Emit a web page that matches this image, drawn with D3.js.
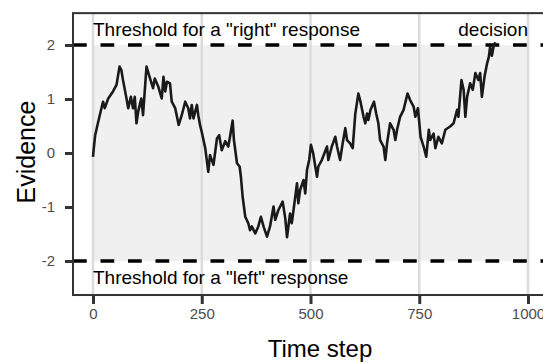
<!DOCTYPE html>
<html>
<head>
<meta charset="utf-8">
<script src="https://cdn.jsdelivr.net/npm/d3@7"></script>
<style>
  body { margin: 0; background: #fff; }
  text { font-family: "Liberation Sans", Arial, sans-serif; }
</style>
</head>
<body>
<div id="chart"></div>
<script>
// values
var timeSteps = [0, 2, 5, 12, 23, 27, 35, 46, 54, 61, 65, 69, 77, 81, 87, 92, 96, 100, 104, 111,
  115, 123, 130, 138, 142, 150, 158, 162, 166, 170, 177, 181, 189, 197, 204, 212, 219, 223, 227, 231,
  239, 242, 246, 250, 258, 265, 269, 277, 285, 290, 296, 304, 311, 315, 321, 324, 331, 337, 340, 344,
  350, 357, 361, 365, 373, 380, 386, 392, 400, 407, 415, 419, 426, 436, 442, 446, 453, 457, 465, 469,
  472, 476, 484, 488, 492, 497, 501, 506, 511, 515, 518, 526, 538, 541, 549, 557, 561, 568, 574, 580,
  584, 591, 597, 603, 610, 614, 622, 626, 630, 633, 638, 646, 651, 656, 660, 668, 672, 676, 683, 691,
  695, 699, 706, 714, 723, 729, 737, 741, 747, 753, 760, 766, 772, 775, 783, 787, 794, 802, 810, 821,
  829, 837, 840, 847, 852, 856, 860, 867, 873, 879, 886, 890, 894, 900, 906, 910, 913, 917, 921, 925];
var evidence = [-0.07, 0.1, 0.33, 0.58, 0.95, 0.83, 1.01, 1.14, 1.26, 1.6, 1.54, 1.35, 1.01, 0.83, 1.04, 0.83, 1.04, 0.55, 0.77, 1.01,
  0.7, 1.6, 1.41, 1.2, 1.38, 1.23, 1.01, 1.41, 1.14, 1.32, 1.29, 0.95, 0.83, 0.52, 0.7, 0.95, 0.83, 0.64, 0.89, 0.64,
  0.89, 0.7, 0.52, 0.39, 0.09, -0.35, -0.04, -0.22, 0.27, 0.33, 0.05, 0.22, 0.12, 0.3, 0.6, 0.24, -0.19, -0.25, -0.44, -0.81,
  -1.18, -1.3, -1.43, -1.36, -1.49, -1.36, -1.18, -1.36, -1.55, -1.36, -0.99, -1.24, -1.06, -0.9, -1.21, -1.56, -1.12, -1.3, -0.81, -0.56,
  -0.93, -0.69, -0.5, -0.75, -0.31, -0.13, 0.15, 0, -0.25, -0.44, -0.25, -0.13, 0.12, -0.13, 0.12, 0.3, 0.12, -0.13, 0.18, 0.46,
  0.24, 0.18, 0.09, 0.73, 1.1, 0.98, 0.67, 0.55, 0.73, 0.61, 0.8, 0.95, 0.73, 0.55, 0.24, 0.12, -0.13, 0.18, 0.55, 0.43,
  0.24, 0.43, 0.67, 0.8, 1.1, 0.98, 0.86, 0.67, 0.83, 0.3, 0.12, -0.07, 0.43, 0.24, 0.36, 0.09, 0.3, 0.18, 0.43, 0.49,
  0.55, 0.8, 0.67, 1.35, 1.17, 0.67, 1.04, 1.29, 1.17, 1.48, 1.35, 1.48, 1.04, 1.41, 1.66, 1.78, 1.97, 1.8, 1.98, 2.05];
var xTicks = [0, 250, 500, 750, 1000];
var yTicks = [-2, -1, 0, 1, 2];
var thresholds = [2, -2];
var thresholdLabels = ['Threshold for a "right" response', 'Threshold for a "left" response'];
var decisionLabel = "decision";

var svgWidth = 543;
var svgHeight = 363;

var svg = d3.select("#chart")
    .append("svg")
    .attr("width", svgWidth)
    .attr("height", svgHeight);

var x = d3.scaleLinear().domain([0, 1000]).range([93, 528]);
var y = d3.scaleLinear().domain([-2, 2]).range([261, 45]);

var panelLeft = x(-46), panelRight = x(1060);
var panelTop = y(2.59), panelBottom = y(-2.63);

// shaded evidence band
svg.append("rect")
    .attr("x", x(0))
    .attr("y", y(2))
    .attr("width", x(1000) - x(0))
    .attr("height", y(-2) - y(2))
    .attr("fill", "#f0f0f0");

// vertical grid lines
svg.selectAll(".grid")
    .data(xTicks)
    .enter()
    .append("line")
    .attr("x1", d => x(d))
    .attr("x2", d => x(d))
    .attr("y1", panelTop)
    .attr("y2", panelBottom)
    .attr("stroke", "#dcdcdc")
    .attr("stroke-width", 2.5);

// threshold lines
svg.selectAll(".thresh")
    .data(thresholds)
    .enter()
    .append("line")
    .attr("x1", panelLeft)
    .attr("x2", panelRight)
    .attr("y1", d => y(d))
    .attr("y2", d => y(d))
    .attr("stroke", "#000")
    .attr("stroke-width", 3.4)
    .attr("stroke-dasharray", "13.75,13.75");

// evidence trace
var line = d3.line()
    .x(d => x(d[0]))
    .y(d => y(d[1]));

svg.append("path")
    .datum(timeSteps.map((t, i) => [t, evidence[i]]))
    .attr("d", line)
    .attr("fill", "none")
    .attr("stroke", "#1a1a1a")
    .attr("stroke-width", 2.6)
    .attr("stroke-linejoin", "round");

// threshold labels
svg.append("text")
    .attr("x", x(0))
    .attr("y", 35.5)
    .style("font-size", "19px")
    .attr("fill", "#000")
    .text(thresholdLabels[0]);

svg.append("text")
    .attr("x", x(0))
    .attr("y", 283.5)
    .style("font-size", "19px")
    .attr("fill", "#000")
    .text(thresholdLabels[1]);

svg.append("text")
    .attr("x", x(1000))
    .attr("y", 35.5)
    .attr("text-anchor", "end")
    .style("font-size", "19px")
    .attr("fill", "#000")
    .text(decisionLabel);

// panel border
svg.append("rect")
    .attr("x", panelLeft)
    .attr("y", panelTop)
    .attr("width", panelRight - panelLeft)
    .attr("height", panelBottom - panelTop)
    .attr("fill", "none")
    .attr("stroke", "#333")
    .attr("stroke-width", 2);

// axes
var leftAxis = d3.axisLeft(y).tickValues(yTicks).tickSize(8).tickPadding(10).tickFormat(d3.format("d"));
var bottomAxis = d3.axisBottom(x).tickValues(xTicks).tickSize(9).tickPadding(4).tickFormat(d3.format("d"));

var gy = svg.append("g")
    .attr("transform", `translate(${panelLeft}, 0)`)
    .call(leftAxis);
var gx = svg.append("g")
    .attr("transform", `translate(0, ${panelBottom})`)
    .call(bottomAxis);

[gx, gy].forEach(function(g) {
    g.select(".domain").remove();
    g.selectAll(".tick line").attr("stroke", "#333").attr("stroke-width", 3);
    g.selectAll(".tick text")
        .attr("fill", "#4d4d4d")
        .style("font-size", "15px")
        .style("font-family", '"Liberation Sans", Arial, sans-serif');
});
gy.selectAll(".tick text").text(d => d < 0 ? "-" + Math.abs(d) : d);

// axis titles
svg.append("text")
    .attr("transform", "rotate(-90)")
    .attr("x", -152)
    .attr("y", 35)
    .attr("text-anchor", "middle")
    .style("font-size", "25px")
    .text("Evidence");

svg.append("text")
    .attr("x", 320)
    .attr("y", 357)
    .attr("text-anchor", "middle")
    .style("font-size", "24px")
    .text("Time step");
</script>
</body>
</html>
